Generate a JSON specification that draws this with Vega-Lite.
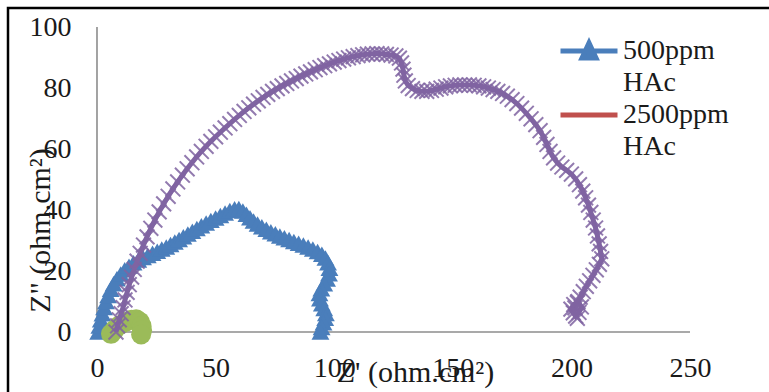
{
  "$schema": "https://vega.github.io/schema/vega-lite/v6.json",
  "width": 761,
  "height": 384,
  "autosize": {"type": "none"},
  "padding": {"left": 8, "top": 8, "right": 0, "bottom": 0},
  "background": "white",
  "config": {
    "view": {"stroke": "#000000", "strokeWidth": 2.5, "strokeDash": [761, 1145, 384]},
    "font": "Liberation Serif, Times New Roman, DejaVu Serif, serif",
    "axis": {"labelFont": "Liberation Serif, Times New Roman, DejaVu Serif, serif", "titleFont": "Liberation Serif, Times New Roman, DejaVu Serif, serif"},
    "legend": {"labelFont": "Liberation Serif, Times New Roman, DejaVu Serif, serif"}
  },
  "datasets": {
    "axes": [
      {"x": 0, "x2": 250, "y": 0, "y2": 0},
      {"x": 0, "x2": 0, "y": 0, "y2": 100}
    ],
    "blue": [
      {"s":"500ppm HAc","x":0.5,"y":0},{"s":"500ppm HAc","x":1,"y":2},{"s":"500ppm HAc","x":1.6,"y":4},{"s":"500ppm HAc","x":2.3,"y":6},{"s":"500ppm HAc","x":3,"y":8},{"s":"500ppm HAc","x":3.8,"y":10},{"s":"500ppm HAc","x":4.7,"y":12},{"s":"500ppm HAc","x":5.8,"y":14},{"s":"500ppm HAc","x":7,"y":15.8},{"s":"500ppm HAc","x":8.4,"y":17.5},{"s":"500ppm HAc","x":10,"y":19},{"s":"500ppm HAc","x":11.7,"y":20.4},{"s":"500ppm HAc","x":13.5,"y":21.6},{"s":"500ppm HAc","x":15.4,"y":22.7},{"s":"500ppm HAc","x":17.4,"y":23.6},{"s":"500ppm HAc","x":19.4,"y":24.4},{"s":"500ppm HAc","x":21.4,"y":25.1},{"s":"500ppm HAc","x":23.4,"y":25.8},{"s":"500ppm HAc","x":25.4,"y":26.5},{"s":"500ppm HAc","x":27.3,"y":27.2},{"s":"500ppm HAc","x":29.2,"y":27.9},{"s":"500ppm HAc","x":31,"y":28.7},{"s":"500ppm HAc","x":32.8,"y":29.5},{"s":"500ppm HAc","x":34.6,"y":30.3},{"s":"500ppm HAc","x":36.4,"y":31.2},{"s":"500ppm HAc","x":38.3,"y":32.1},{"s":"500ppm HAc","x":40.2,"y":33},{"s":"500ppm HAc","x":42.1,"y":33.9},{"s":"500ppm HAc","x":44,"y":34.8},{"s":"500ppm HAc","x":46,"y":35.7},{"s":"500ppm HAc","x":48,"y":36.6},{"s":"500ppm HAc","x":50,"y":37.4},{"s":"500ppm HAc","x":52,"y":38.2},{"s":"500ppm HAc","x":54,"y":39},{"s":"500ppm HAc","x":56,"y":39.8},{"s":"500ppm HAc","x":58,"y":40.4},{"s":"500ppm HAc","x":59.8,"y":40.5},{"s":"500ppm HAc","x":61.5,"y":39.7},{"s":"500ppm HAc","x":63,"y":38.6},{"s":"500ppm HAc","x":64.5,"y":37.5},{"s":"500ppm HAc","x":66,"y":36.4},{"s":"500ppm HAc","x":67.7,"y":35.4},{"s":"500ppm HAc","x":69.5,"y":34.5},{"s":"500ppm HAc","x":71.4,"y":33.7},{"s":"500ppm HAc","x":73.3,"y":32.9},{"s":"500ppm HAc","x":75.2,"y":32.2},{"s":"500ppm HAc","x":77.1,"y":31.5},{"s":"500ppm HAc","x":79,"y":30.9},{"s":"500ppm HAc","x":81,"y":30.3},{"s":"500ppm HAc","x":83,"y":29.7},{"s":"500ppm HAc","x":85,"y":29.1},{"s":"500ppm HAc","x":87,"y":28.5},{"s":"500ppm HAc","x":89,"y":27.9},{"s":"500ppm HAc","x":91,"y":27.2},{"s":"500ppm HAc","x":93,"y":26.4},{"s":"500ppm HAc","x":94.8,"y":25.5},{"s":"500ppm HAc","x":96.3,"y":24.3},{"s":"500ppm HAc","x":97.4,"y":22.7},{"s":"500ppm HAc","x":98,"y":20.9},{"s":"500ppm HAc","x":97.8,"y":19.1},{"s":"500ppm HAc","x":97,"y":17.4},{"s":"500ppm HAc","x":95.8,"y":15.8},{"s":"500ppm HAc","x":94.6,"y":14.2},{"s":"500ppm HAc","x":93.8,"y":12.6},{"s":"500ppm HAc","x":94,"y":10.9},{"s":"500ppm HAc","x":94.8,"y":9.3},{"s":"500ppm HAc","x":95.8,"y":7.7},{"s":"500ppm HAc","x":96.5,"y":6.1},{"s":"500ppm HAc","x":96.2,"y":4.5},{"s":"500ppm HAc","x":95.5,"y":3},{"s":"500ppm HAc","x":94.7,"y":1.5},{"s":"500ppm HAc","x":94.2,"y":0}
    ],
    "green": [
      {"s":"Series3","x":5.9,"y":-0.6},{"s":"Series3","x":7.5,"y":0.8},{"s":"Series3","x":9.5,"y":2.2},{"s":"Series3","x":12,"y":3.3},{"s":"Series3","x":14.5,"y":4},{"s":"Series3","x":16.5,"y":4.2},{"s":"Series3","x":18,"y":3.4},{"s":"Series3","x":18.8,"y":2},{"s":"Series3","x":19,"y":0.6},{"s":"Series3","x":18.6,"y":-0.8}
    ],
    "purple": [
      {"s":"Series4","x":8,"y":0},{"s":"Series4","x":8.7,"y":2},{"s":"Series4","x":9.4,"y":4},{"s":"Series4","x":10.2,"y":6},{"s":"Series4","x":11,"y":8},{"s":"Series4","x":11.8,"y":10.5},{"s":"Series4","x":12.7,"y":13},{"s":"Series4","x":13.6,"y":15.5},{"s":"Series4","x":14.6,"y":18},{"s":"Series4","x":15.7,"y":20.5},{"s":"Series4","x":16.9,"y":23.2},{"s":"Series4","x":18.2,"y":25.8},{"s":"Series4","x":19.6,"y":28.5},{"s":"Series4","x":21.1,"y":31.2},{"s":"Series4","x":22.7,"y":34},{"s":"Series4","x":24.4,"y":36.7},{"s":"Series4","x":26.2,"y":39.4},{"s":"Series4","x":28.1,"y":42},{"s":"Series4","x":30,"y":44.5},{"s":"Series4","x":32,"y":46.9},{"s":"Series4","x":34,"y":49.2},{"s":"Series4","x":36,"y":51.4},{"s":"Series4","x":38,"y":53.5},{"s":"Series4","x":40,"y":55.5},{"s":"Series4","x":42,"y":57.4},{"s":"Series4","x":44,"y":59.2},{"s":"Series4","x":46,"y":60.9},{"s":"Series4","x":48,"y":62.5},{"s":"Series4","x":50,"y":64},{"s":"Series4","x":52,"y":65.5},{"s":"Series4","x":54,"y":66.9},{"s":"Series4","x":56,"y":68.3},{"s":"Series4","x":58,"y":69.7},{"s":"Series4","x":60,"y":71},{"s":"Series4","x":62,"y":72.3},{"s":"Series4","x":64,"y":73.5},{"s":"Series4","x":66,"y":74.7},{"s":"Series4","x":68,"y":75.8},{"s":"Series4","x":70,"y":76.9},{"s":"Series4","x":72,"y":77.9},{"s":"Series4","x":74,"y":78.9},{"s":"Series4","x":76,"y":79.8},{"s":"Series4","x":78,"y":80.7},{"s":"Series4","x":80,"y":81.5},{"s":"Series4","x":82,"y":82.3},{"s":"Series4","x":84,"y":83.1},{"s":"Series4","x":86,"y":83.9},{"s":"Series4","x":88,"y":84.6},{"s":"Series4","x":90,"y":85.3},{"s":"Series4","x":92,"y":86},{"s":"Series4","x":94,"y":86.7},{"s":"Series4","x":96,"y":87.3},{"s":"Series4","x":98,"y":87.9},{"s":"Series4","x":100,"y":88.5},{"s":"Series4","x":102,"y":89},{"s":"Series4","x":104,"y":89.5},{"s":"Series4","x":106,"y":89.9},{"s":"Series4","x":108,"y":90.3},{"s":"Series4","x":110,"y":90.6},{"s":"Series4","x":112,"y":90.9},{"s":"Series4","x":114,"y":91.1},{"s":"Series4","x":116,"y":91.2},{"s":"Series4","x":118,"y":91.3},{"s":"Series4","x":120,"y":91.2},{"s":"Series4","x":122,"y":91},{"s":"Series4","x":124,"y":90.8},{"s":"Series4","x":126,"y":90.5},{"s":"Series4","x":127.5,"y":89.8},{"s":"Series4","x":128.4,"y":88.2},{"s":"Series4","x":129,"y":86.2},{"s":"Series4","x":129.4,"y":84.2},{"s":"Series4","x":130,"y":82.3},{"s":"Series4","x":131.2,"y":80.8},{"s":"Series4","x":133,"y":79.8},{"s":"Series4","x":135,"y":79.2},{"s":"Series4","x":137,"y":78.9},{"s":"Series4","x":139,"y":78.9},{"s":"Series4","x":141,"y":79.2},{"s":"Series4","x":143,"y":79.6},{"s":"Series4","x":145,"y":80},{"s":"Series4","x":147,"y":80.4},{"s":"Series4","x":149,"y":80.7},{"s":"Series4","x":151,"y":80.9},{"s":"Series4","x":153,"y":81},{"s":"Series4","x":155,"y":81},{"s":"Series4","x":157,"y":81},{"s":"Series4","x":159,"y":80.9},{"s":"Series4","x":161,"y":80.7},{"s":"Series4","x":163,"y":80.4},{"s":"Series4","x":165,"y":80},{"s":"Series4","x":167,"y":79.5},{"s":"Series4","x":169,"y":78.9},{"s":"Series4","x":171,"y":78.2},{"s":"Series4","x":173,"y":77.3},{"s":"Series4","x":175,"y":76.2},{"s":"Series4","x":177,"y":74.9},{"s":"Series4","x":179,"y":73.4},{"s":"Series4","x":181,"y":71.7},{"s":"Series4","x":183,"y":69.9},{"s":"Series4","x":185,"y":68},{"s":"Series4","x":186.8,"y":66},{"s":"Series4","x":188.3,"y":63.8},{"s":"Series4","x":189.7,"y":61.5},{"s":"Series4","x":191,"y":59.2},{"s":"Series4","x":192.5,"y":57.1},{"s":"Series4","x":194.2,"y":55.4},{"s":"Series4","x":196,"y":54.1},{"s":"Series4","x":198,"y":53},{"s":"Series4","x":200,"y":51.8},{"s":"Series4","x":201.8,"y":50.2},{"s":"Series4","x":203.4,"y":48.3},{"s":"Series4","x":204.8,"y":46.2},{"s":"Series4","x":206,"y":44},{"s":"Series4","x":207.2,"y":41.6},{"s":"Series4","x":208.2,"y":39.2},{"s":"Series4","x":209.2,"y":36.7},{"s":"Series4","x":210.2,"y":34.1},{"s":"Series4","x":211,"y":31.5},{"s":"Series4","x":211.7,"y":28.9},{"s":"Series4","x":212.3,"y":26.4},{"s":"Series4","x":212.8,"y":24},{"s":"Series4","x":211.8,"y":22.2},{"s":"Series4","x":210.5,"y":20.4},{"s":"Series4","x":209.1,"y":18.6},{"s":"Series4","x":207.7,"y":16.8},{"s":"Series4","x":206.3,"y":15},{"s":"Series4","x":205,"y":13.2},{"s":"Series4","x":203.7,"y":11.4},{"s":"Series4","x":202.5,"y":9.6},{"s":"Series4","x":201.5,"y":7.9},{"s":"Series4","x":200.8,"y":6.3},{"s":"Series4","x":201.8,"y":5.2},{"s":"Series4","x":203.2,"y":6.4},{"s":"Series4","x":204.2,"y":8.2},{"s":"Series4","x":202.8,"y":10},{"s":"Series4","x":201,"y":9},{"s":"Series4","x":199.8,"y":7.5},{"s":"Series4","x":202.5,"y":4.5}
    ]
  },
  "encoding": {
    "x": {
      "field": "x", "type": "quantitative",
      "scale": {"domain": [-37.52, 283.31], "nice": false, "zero": false},
      "axis": {
        "offset": -60, "domain": false, "ticks": false, "tickSize": 0, "grid": false,
        "values": [0, 50, 100, 150, 200, 250],
        "labelFontSize": 28, "labelColor": "#1a1a1a",
        "labelPadding": 36, "labelBaseline": "middle", "labelFlush": false, "labelOverlap": false,
        "title": "Z' (ohm.cm²)", "titleFontSize": 30, "titleFontWeight": "normal",
        "titleColor": "#1a1a1a", "titleX": 407, "titleY": 40, "titleBaseline": "middle", "titleAlign": "center"
      }
    },
    "y": {
      "field": "y", "type": "quantitative",
      "scale": {"domain": [-19.67, 106.23], "nice": false, "zero": false},
      "axis": {
        "offset": -89, "domain": false, "ticks": false, "tickSize": 0, "grid": false,
        "values": [0, 20, 40, 60, 80, 100],
        "labelFontSize": 28, "labelColor": "#1a1a1a",
        "labelPadding": 26, "labelBaseline": "middle", "labelFlush": false, "labelOverlap": false,
        "title": "Z\" (ohm.cm²)", "titleFontSize": 30, "titleFontWeight": "normal",
        "titleColor": "#1a1a1a", "titleX": -57, "titleY": 222, "titleBaseline": "middle", "titleAlign": "center", "titleAngle": 270
      }
    }
  },
  "layer": [
    {
      "data": {"name": "axes"},
      "mark": {"type": "rule", "color": "#8c8c8c", "strokeWidth": 1.6},
      "encoding": {
        "x2": {"field": "x2"},
        "y2": {"field": "y2"}
      }
    },
    {
      "data": {"name": "blue"},
      "mark": {"type": "line", "strokeWidth": 3},
      "encoding": {
        "order": {"value": null},
        "color": {
          "field": "s", "type": "nominal",
          "scale": {"domain": ["500ppm HAc", "2500ppm HAc", "Series3", "Series4"], "range": ["#4a7ebb", "#c0504d", "#9bbb59", "#8064a2"]},
          "legend": {
            "orient": "none", "legendX": 567, "legendY": 29, "title": null,
            "values": ["500ppm HAc", "2500ppm HAc"],
            "labelFontSize": 28, "labelColor": "#1a1a1a",
            "labelOffset": 20, "labelLimit": 400, "labelExpr": "split(datum.label, ' ')",
            "symbolSize": 400, "symbolStrokeWidth": 5, "rowPadding": 4, "padding": 0,
            "encode": {
              "symbols": {"update": {
                "shape": {"signal": "datum.value === '500ppm HAc' ? 'M-2.85,0L2.85,0M-0.7,0.7L0,-0.8L0.7,0.7Z' : 'M-2.85,0L2.85,0'"},
                "fill": {"signal": "datum.value === '500ppm HAc' ? '#4a7ebb' : 'transparent'"},
                "stroke": {"signal": "datum.value === '500ppm HAc' ? '#4a7ebb' : '#c0504d'"},
                "strokeWidth": {"value": 5},
                "size": {"value": 400}
              }},
              "labels": {"update": {"lineHeight": {"value": 32}}}
            }
          }
        }
      }
    },
    {
      "data": {"name": "blue"},
      "mark": {"type": "point", "shape": "triangle-up", "filled": true, "size": 320, "opacity": 1},
      "encoding": {"color": {"field": "s", "type": "nominal", "legend": null}}
    },
    {
      "data": {"name": "green"},
      "mark": {"type": "point", "shape": "circle", "filled": true, "size": 400, "opacity": 1},
      "encoding": {"color": {"field": "s", "type": "nominal", "legend": null}}
    },
    {
      "data": {"name": "purple"},
      "mark": {"type": "line", "strokeWidth": 5},
      "encoding": {"order": {"value": null}, "color": {"field": "s", "type": "nominal", "legend": null}}
    },
    {
      "data": {"name": "purple"},
      "mark": {"type": "point", "shape": "M-1,-1L1,1M-1,1L1,-1", "filled": false, "size": 220, "strokeWidth": 2, "opacity": 0.85},
      "encoding": {"color": {"field": "s", "type": "nominal", "legend": null}}
    }
  ]
}
